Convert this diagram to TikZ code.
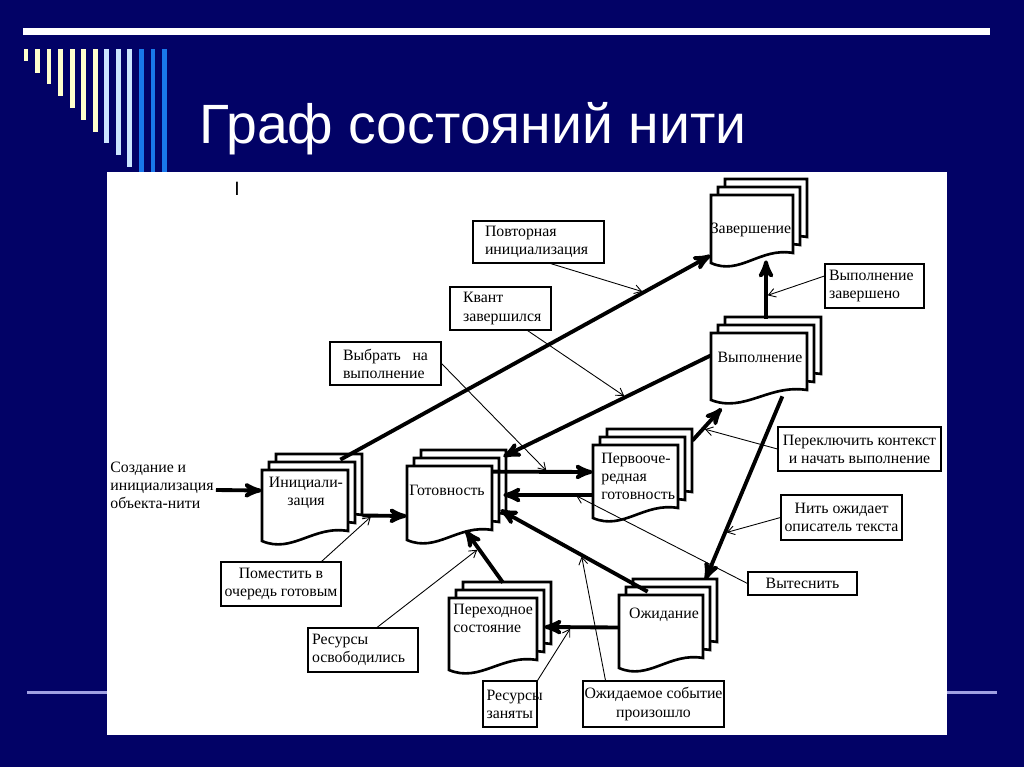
\documentclass[tikz,border=0pt]{standalone}
\usepackage{fontspec}
\newfontfamily\titlefont{Liberation Sans}
\newfontfamily\notefont{Liberation Serif}
\usetikzlibrary{arrows}
\usetikzlibrary{arrows.meta}
\usetikzlibrary{calc}
\usetikzlibrary{fit}

\definecolor{slidebg}{RGB}{2,2,102}
\definecolor{stripecream}{RGB}{255,255,204}
\definecolor{stripepale}{RGB}{204,230,255}
\definecolor{stripeblue}{RGB}{25,120,235}
\definecolor{rulelilac}{RGB}{160,160,225}

\newdimen\px \px=0.02cm

\tikzset{
  docline/.style={draw=black, fill=white, line width=1.5pt},
  statetext/.style={font=\notefont\fontsize{9}{10.3}\selectfont, align=center, inner sep=0pt},
  callout/.style={draw, fill=white, line width=0.6pt, inner sep=0pt, align=center,
                  font=\notefont\fontsize{9}{10.3}\selectfont},
  trans/.style={->, >=stealth', line width=2.2pt},
  note/.style={-{Straight Barb[length=4pt,width=5pt]}, line width=0.5pt, shorten >=1pt},
}

% stack of three document sheets: name, left, top, right, bottom (pixels, y down)
\newcommand{\docstate}[5]{%
  \foreach \k in {2,1,0}
    \filldraw[docline, shift={(7*\k,-8*\k)}]
      (#2,#3) -- (#4,#3) -- (#4,{#5-10})
      .. controls ({0.6*#4+0.4*#2},{#5-16}) and ({0.65*#2+0.35*#4},{#5+13}) .. (#2,#5) -- cycle;
  \node[fit={(#2,#3) (#4,#5)}, inner sep=0pt] (#1) {};
}

\begin{document}
\begin{tikzpicture}[x=0.02cm, y=-0.02cm]
  \useasboundingbox (0,0) rectangle (1024,767);
  \fill[slidebg] (0,0) rectangle (1024,767);

  % slide decoration
  \fill[white] (23,28) rectangle (990,35);
  \foreach \i/\c [evaluate=\i as \xl using 23.5+11.55*\i,
                  evaluate=\i as \yb using {min(49+11.8*(\i+1),180)}]
      in {0/stripecream,1/stripecream,2/stripecream,3/stripecream,4/stripecream,
          5/stripecream,6/stripecream,7/stripepale,8/stripepale,9/stripepale,
          10/stripeblue,11/stripeblue,12/stripeblue}
    \fill[\c] (\xl,49) rectangle ({\xl+4.8},\yb);
  \draw[rulelilac, line width=3\px] (27,692) -- (997,692);
  \fill[white] (107,172) rectangle (947,735);

  \node[anchor=base west, text=white, inner sep=0pt,
        font=\titlefont\fontsize{31.5}{36}\selectfont] (title) at (199,143) {Граф состояний нити};
  \node[font=\titlefont\fontsize{11}{12}\selectfont, inner sep=0pt] (cursor) at (237,189) {I};

  % states
  \docstate{init}{262}{470}{348}{541}
  \docstate{ready}{407}{466}{492}{540}
  \docstate{prio}{593}{445}{678}{518}
  \docstate{run}{711}{333}{807}{400}
  \docstate{done}{711}{195}{793}{263}
  \docstate{pend}{449}{598}{537}{670}
  \docstate{wait}{619}{595}{703}{668}

  \node[statetext] (init-text) at (306,493) {Инициали-\\зация};
  \node[statetext] (ready-text) at (447,490) {Готовность};
  \node[statetext, align=left, anchor=west] (prio-text) at (601,476) {Первооче-\\редная\\готовность};
  \node[statetext] (run-text) at (760,357) {Выполнение};
  \node[statetext] (done-text) at (751,230) {Завершение};
  \node[statetext, align=left, anchor=west] (pend-text) at (453,618) {Переходное\\состояние};
  \node[statetext] (wait-text) at (664,615) {Ожидание};
  \node[statetext, align=left, anchor=west] (create) at (110,485) {Создание и\\инициализация\\объекта-нити};

  % events
  \node[callout, minimum width=131\px, minimum height=42\px, text width=107\px, align=left]
    (reinit) at (538.5,242) {Повторная\\инициализация};
  \node[callout, minimum width=101\px, minimum height=43\px, text width=75\px, align=left]
    (quantum) at (500.5,308.5) {Квант\\завершился};
  \node[callout, minimum width=111\px, minimum height=43\px, text width=85\px, align=left]
    (select) at (385.5,363.5) {Выбрать\hskip 0pt plus 1filll на\\выполнение};
  \node[callout, minimum width=99\px, minimum height=44\px, text width=91\px, align=left]
    (runend) at (874.5,286) {Выполнение\\завершено};
  \node[callout, minimum width=163\px, minimum height=44\px]
    (switch) at (859.5,449) {Переключить контекст\\и начать выполнение};
  \node[callout, minimum width=121\px, minimum height=45\px]
    (waitdesc) at (841.5,517.5) {Нить ожидает\\описатель текста};
  \node[callout, minimum width=109\px, minimum height=23\px]
    (preempt) at (802.5,583.5) {Вытеснить};
  \node[callout, minimum width=120\px, minimum height=44\px]
    (enqueue) at (281,584) {Поместить в\\очередь готовым};
  \node[callout, minimum width=110\px, minimum height=44\px, text width=102\px, align=left]
    (freed) at (363,650) {Ресурсы\\освободились};
  \node[callout, minimum width=54\px, minimum height=46\px, text width=47\px, align=left]
    (busy) at (510,704) {Ресурсы\\заняты};
  \node[callout, minimum width=141\px, minimum height=46\px]
    (occurred) at (653.5,704) {Ожидаемое событие\\произошло};

  % transitions
  \draw[trans] ($(create.east)+(2,5)$) -- ($(init.west)+(0,-15)$);
  \draw[trans] ($(init.east)+(14,10)$) -- coordinate[pos=0.22] (c-enqueue) ($(ready.west)+(0,13)$);
  \draw[trans] ($(init.north east)+(-8,-10)$) -- coordinate[pos=0.82] (c-reinit) ($(done.south west)+(0,-8)$);
  \draw[trans] ($(run.west)+(0,-11)$) -- coordinate[pos=0.41] (c-quantum) ($(ready.north east)+(11,-9)$);
  \draw[trans] ($(ready.north east)+(0,6)$) -- coordinate[pos=0.55] (c-select) ($(prio.west)+(0,-9.5)$);
  \draw[trans] ($(prio.west)+(0,13.5)$) -- coordinate[pos=0.2] (c-preempt) ($(ready.east)+(11,-8)$);
  \draw[trans] ($(prio.north east)+(14,-4)$) -- coordinate[pos=0.37] (c-switch) ($(run.south west)+(11,8)$);
  \draw[trans] ($(run.north)+(7,-14)$) -- coordinate[pos=0.39] (c-runend) ($(done.south)+(14,-3)$);
  \draw[trans] ($(run.south east)+(-25,-4)$) -- coordinate[pos=0.745] (c-waitdesc) ($(wait.north east)+(2,-15)$);
  \draw[trans] ($(wait.north west)+(29,-3)$) -- coordinate[pos=0.45] (c-occurred) ($(ready.east)+(8,7)$);
  \draw[trans] ($(pend.north)+(10,-15)$) -- coordinate[pos=0.65] (c-freed) ($(ready.south)+(16,-10)$);
  \draw[trans] ($(wait.west)+(0,-4)$) -- coordinate[pos=0.64] (c-busy) ($(pend.east)+(7,-7)$);

  % event pointers
  \draw[note] ($(reinit.south)+(12,0)$) -- (c-reinit);
  \draw[note] ($(quantum.south)+(27,0)$) -- (c-quantum);
  \draw[note] (select.east) -- (c-select);
  \draw[note] ($(runend.west)+(0,-10)$) -- (c-runend);
  \draw[note] (switch.west) -- (c-switch);
  \draw[note] (waitdesc.west) -- (c-waitdesc);
  \draw[note] (preempt.west) -- (c-preempt);
  \draw[note] ($(enqueue.north east)+(-20,0)$) -- (c-enqueue);
  \draw[note] ($(freed.north)+(14,0)$) -- (c-freed);
  \draw[note] (busy.north east) -- (c-busy);
  \draw[note] ($(occurred.north)+(-48,0)$) -- (c-occurred);
\end{tikzpicture}
\end{document}
